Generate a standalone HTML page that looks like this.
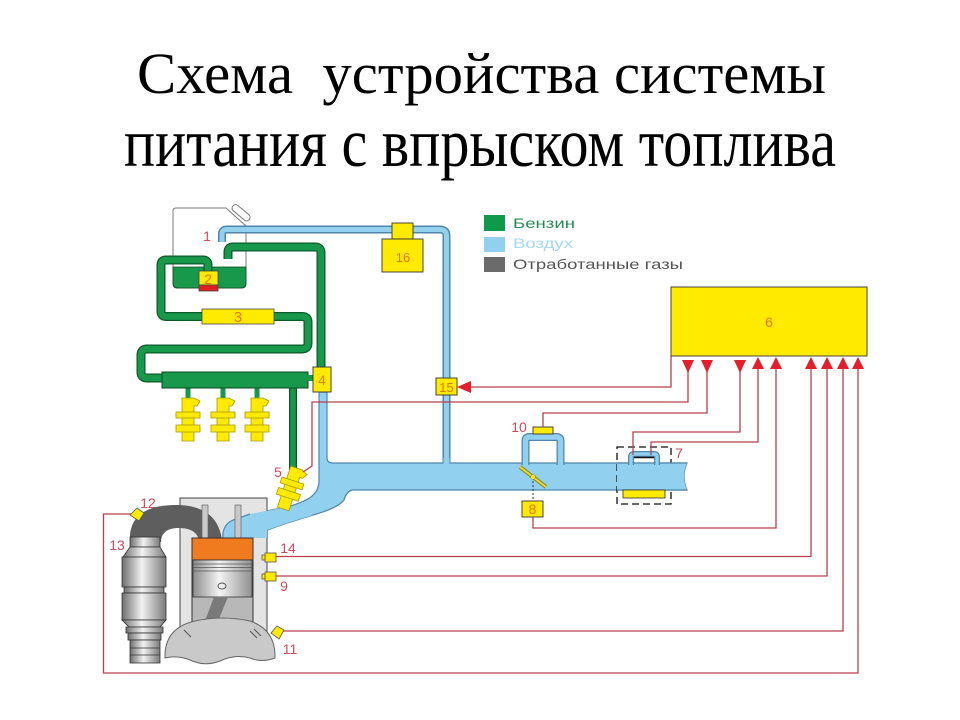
<!DOCTYPE html>
<html><head><meta charset="utf-8"><style>
html,body{margin:0;padding:0;background:#fff;}
svg{display:block;}
</style></head><body>
<svg width="960" height="720" viewBox="0 0 960 720" xmlns="http://www.w3.org/2000/svg">
<defs>
<linearGradient id="metal" x1="0" x2="1" y1="0" y2="0">
<stop offset="0" stop-color="#6e6e6e"/><stop offset="0.45" stop-color="#f2f2f2"/><stop offset="1" stop-color="#7a7a7a"/>
</linearGradient>
<linearGradient id="pist" x1="0" x2="1" y1="0" y2="0">
<stop offset="0" stop-color="#8c8c8c"/><stop offset="0.45" stop-color="#f4f4f4"/><stop offset="1" stop-color="#909090"/>
</linearGradient>
</defs>
<rect width="960" height="720" fill="#fff"/>

<!-- Title -->
<text x="137" y="93" font-family="Liberation Serif, serif" font-size="58" fill="#000" textLength="689" lengthAdjust="spacingAndGlyphs" style="white-space:pre">Схема  устройства системы</text>
<text x="124" y="166" font-family="Liberation Serif, serif" font-size="58" fill="#000" textLength="712" lengthAdjust="spacingAndGlyphs" transform="matrix(1 0 0 1.18 0 -29.88)">питания с впрыском топлива</text>

<!-- Legend -->
<rect x="484" y="215" width="21" height="16" fill="#0f9a4a"/>
<rect x="484" y="237" width="21" height="15" fill="#92d0ef"/>
<rect x="484" y="257" width="21" height="15" fill="#6b6b6b"/>
<text x="513" y="228" font-family="Liberation Sans, sans-serif" font-size="14" fill="#2a8a55" textLength="62" lengthAdjust="spacingAndGlyphs">Бензин</text>
<text x="513" y="248" font-family="Liberation Sans, sans-serif" font-size="14" fill="#a4d8f0" textLength="60" lengthAdjust="spacingAndGlyphs">Воздух</text>
<text x="513" y="269" font-family="Liberation Sans, sans-serif" font-size="14" fill="#555" textLength="170" lengthAdjust="spacingAndGlyphs">Отработанные газы</text>

<!-- Tank -->
<path d="M176,208 H226 L246,226 V284 Q246,288 242,288 H177 Q173,288 173,284 V211 Q173,208 176,208 Z" fill="none" stroke="#7a7a7a" stroke-width="1"/>
<path d="M173,267 H246 V283 Q246,288 241,288 H178 Q173,288 173,283 Z" fill="#17984a" stroke="#0c4a22" stroke-width="0.8"/>
<rect x="231" y="209" width="21" height="7" rx="3" fill="#fff" stroke="#7a7a7a" transform="rotate(40 241 212)"/>

<!-- Blue air pipe top -->
<g fill="none" stroke-linejoin="round">
<path d="M222,242 V234 Q222,229.5 227,229.5 H440 Q446.5,229.5 446.5,236 V466" stroke="#4f86aa" stroke-width="8"/>
<path d="M222,242 V234 Q222,229.5 227,229.5 H440 Q446.5,229.5 446.5,236 V466" stroke="#94d1ef" stroke-width="5"/>
</g>

<!-- Green fuel pipes -->
<g fill="none" stroke-linejoin="round">
<path d="M228,259 V252 Q228,247 233,247 H315 Q321,247 321,253 V368" stroke="#0c5a2a" stroke-width="9"/>
<path d="M228,259 V252 Q228,247 233,247 H315 Q321,247 321,253 V368" stroke="#17984a" stroke-width="6.5"/>
<path d="M208,272 V265 Q208,260 203,260 H166 Q161,260 161,265 V311 Q161,316.5 166,316.5 H203" stroke="#0c5a2a" stroke-width="9"/>
<path d="M208,272 V265 Q208,260 203,260 H166 Q161,260 161,265 V311 Q161,316.5 166,316.5 H203" stroke="#17984a" stroke-width="6.5"/>
<path d="M273,316.5 H302 Q308,316.5 308,322 V343 Q308,349 302,349 H147 Q141,349 141,355 V372 Q141,378 147,378 H164" stroke="#0c5a2a" stroke-width="9"/>
<path d="M273,316.5 H302 Q308,316.5 308,322 V343 Q308,349 302,349 H147 Q141,349 141,355 V372 Q141,378 147,378 H164" stroke="#17984a" stroke-width="6.5"/>
<path d="M293,386 V470" stroke="#0c5a2a" stroke-width="8"/>
<path d="M293,386 V470" stroke="#17984a" stroke-width="5.5"/>
<path d="M188,386 V398 M223,386 V398 M257,386 V398" stroke="#17984a" stroke-width="5"/>
</g>
<rect x="162" y="372" width="146" height="16" fill="#17984a" stroke="#0c4a22" stroke-width="1"/>
<rect x="306" y="375" width="8" height="6" fill="#17984a"/>

<!-- Pump 2 -->
<rect x="199" y="271" width="19" height="14" fill="#ffea00" stroke="#444" stroke-width="0.8"/>
<rect x="199" y="285" width="19" height="6" fill="#e02020" stroke="#444" stroke-width="0.8"/>
<!-- Filter 3 -->
<rect x="202" y="309" width="72" height="15" fill="#ffea00" stroke="#444" stroke-width="0.8"/>

<!-- Rail injectors -->
<g fill="#ffea00" stroke="#a89a00" stroke-width="0.8">
<path d="M182,398 H194 L200,401 L197,406 L194,406 V441 H182 Z"/>
<rect x="176" y="412" width="24" height="6"/><rect x="176" y="425" width="24" height="7"/>
<path d="M217,398 H229 L235,401 L232,406 L229,406 V441 H217 Z"/>
<rect x="211" y="412" width="24" height="6"/><rect x="211" y="425" width="24" height="7"/>
<path d="M251,398 H263 L269,401 L266,406 L263,406 V441 H251 Z"/>
<rect x="245" y="412" width="24" height="6"/><rect x="245" y="425" width="24" height="7"/>
</g>

<!-- Blue intake -->
<path d="M319,392 L327,392 L327,458 Q327,463 333,463 L687,463 Q681,476 687,490 L352,490 Q346,492 344,500 Q338,508 313,515 L287,523 L267,530 L267,538 L223,538 Q222,525 233,520 L250,514 L287,507 Q308,501 313,495 Q319,490 319,480 Z" fill="#92d0ef" stroke="#4f86aa" stroke-width="1.2"/>
<rect x="320" y="393" width="6" height="71" fill="#92d0ef"/>
<rect x="443.5" y="458" width="6" height="7" fill="#92d0ef"/>
<!-- bypass loop -->
<g fill="none">
<path d="M525.5,465 V441 Q525.5,437 529.5,437 H556.5 Q560.5,437 560.5,441 V465" stroke="#4f86aa" stroke-width="8"/>
<path d="M525.5,466 V441 Q525.5,437 529.5,437 H556.5 Q560.5,437 560.5,441 V466" stroke="#92d0ef" stroke-width="5.5"/>
</g>
<!-- sensor 7 -->
<rect x="617" y="447" width="54" height="57" fill="none" stroke="#111" stroke-width="1.3" stroke-dasharray="7,4"/>
<path d="M687,463 Q681,476 687,490 L617,490 L617,463 Z" fill="#92d0ef"/>
<line x1="617" y1="463" x2="687" y2="463" stroke="#4f86aa" stroke-width="1.2"/>
<line x1="617" y1="490" x2="687" y2="490" stroke="#4f86aa" stroke-width="1.2"/>
<g fill="none">
<path d="M631,465 V457 Q631,454 634,454 H654 Q657,454 657,457 V465" stroke="#4f86aa" stroke-width="6"/>
<path d="M631,466 V457 Q631,454 634,454 H654 Q657,454 657,457 V466" stroke="#92d0ef" stroke-width="3.5"/>
</g>
<line x1="634" y1="457.5" x2="654" y2="457.5" stroke="#111" stroke-width="1.5"/>
<rect x="623" y="490" width="42" height="8" fill="#ffea00" stroke="#333" stroke-width="0.8"/>

<!-- throttle -->
<line x1="533" y1="477" x2="533" y2="501" stroke="#333" stroke-width="1" stroke-dasharray="2,2"/>
<line x1="520" y1="467" x2="546" y2="487" stroke="#8a8a20" stroke-width="4"/>
<line x1="520" y1="467" x2="546" y2="487" stroke="#e6dc30" stroke-width="2"/>
<circle cx="533" cy="477" r="2.5" fill="#ffea00" stroke="#777" stroke-width="0.5"/>

<!-- Boxes -->
<g fill="#ffea00" stroke="#333" stroke-width="0.9">
<rect x="313" y="367" width="18" height="25"/>
<rect x="392" y="223" width="21" height="16"/>
<rect x="382" y="239" width="41" height="33"/>
<rect x="436" y="378" width="21" height="17"/>
<rect x="671" y="287" width="196" height="69"/>
<rect x="533" y="427" width="20" height="7"/>
<rect x="522" y="501" width="21" height="16"/>
</g>

<!-- Engine -->
<rect x="180" y="498" width="87" height="145" fill="#e4e4e4" stroke="#444" stroke-width="1"/>
<path d="M130,542 C128,512 152,505 176,505 C202,505 219,516 222,540 L199,540 C197,532 190,528 179,528 C167,528 161,533 161,542 Z" fill="#5e5e5e"/>
<path d="M267,530 L267,538 L223,538 Q222,525 233,520 L250,514 L287,507 L313,515 L287,523 Z" fill="#92d0ef"/>
<path d="M223,538 Q222,525 233,520 L250,514" fill="none" stroke="#4f86aa" stroke-width="1.2"/>
<rect x="202" y="505" width="6" height="34" fill="#c8c8c8" stroke="#666" stroke-width="0.7"/>
<rect x="235" y="505" width="6" height="34" fill="#c8c8c8" stroke="#666" stroke-width="0.7"/>
<rect x="192" y="538" width="61" height="88" fill="#b8b8b8" stroke="#333" stroke-width="1"/>
<rect x="192" y="538" width="61" height="22" fill="#f07a1e" stroke="#333" stroke-width="1"/>
<rect x="193" y="560" width="59" height="37" fill="url(#pist)" stroke="#333" stroke-width="0.8"/>
<path d="M193,564 H252 M193,567.5 H252 M193,571 H252" stroke="#555" stroke-width="0.8"/>
<ellipse cx="222" cy="586" rx="4" ry="3" fill="none" stroke="#555" stroke-width="1"/>
<polygon points="214,597 228,597 216,626 203,626" fill="#7a7a7a"/>
<path d="M165,658 Q164,628 195,621 Q222,615 250,621 Q276,630 275,658 Q262,663 250,658 Q235,654 220,661 Q205,667 190,660 Q178,655 165,658 Z" fill="#c9c9c9" stroke="#666" stroke-width="1"/>
<path d="M184,630 L191,637 M250,631 L257,638 M254,629 L261,636" stroke="#555" stroke-width="1"/>

<!-- Catalytic converter 13 -->
<g fill="url(#metal)" stroke="#333" stroke-width="0.8">
<rect x="130" y="537" width="30" height="10"/>
<polygon points="130,547 160,547 166,557 123,557"/>
<rect x="122" y="557" width="44" height="30"/>
<rect x="124" y="587" width="40" height="6"/>
<rect x="122" y="593" width="44" height="27"/>
<polygon points="122,620 166,620 160,627 129,627"/>
<rect x="126" y="627" width="37" height="6"/>
<rect x="128" y="633" width="33" height="7"/>
<rect x="130" y="640" width="30" height="23"/>
</g>
<path d="M130,648 H160 M130,655 H160" stroke="#333" stroke-width="0.8"/>

<!-- sensors on engine -->
<g fill="#ffea00" stroke="#555" stroke-width="0.8">
<polygon points="130,515 137,508 144,513 139,521"/>
<rect x="265" y="553" width="11" height="9"/><rect x="262" y="555" width="3" height="5"/>
<rect x="265" y="572" width="11" height="9"/><rect x="262" y="574" width="3" height="5"/>
<polygon points="271,633 277,626 284,630 279,639"/>
</g>
<!-- injector 5 -->
<g transform="rotate(18 290 488)" fill="#ffea00" stroke="#a89a00" stroke-width="0.8">
<path d="M284,467 H296 L302,470 L299,475 L296,475 V510 H284 Z"/>
<rect x="279" y="480" width="23" height="6"/><rect x="279" y="491" width="23" height="7"/>
</g>

<!-- Signal lines -->
<g fill="none" stroke="#b8404e" stroke-width="1.3">
<path d="M671,356 V387 H468"/>
<path d="M688,360 V402 H312 V466 L303,472"/>
<path d="M707,360 V413 H543 V427"/>
<path d="M740,360 V432 H633 V455"/>
<path d="M758,366 V442 H651 V455"/>
<path d="M776,366 V528 H533 V517"/>
<path d="M811,366 V556.5 H276"/>
<path d="M827,366 V576 H276"/>
<path d="M843,366 V631 H283"/>
<path d="M858,366 V673 H103.5 V514 H131"/>
</g>
<g fill="#e41e2a">
<polygon points="457,387 471,381 471,393"/>
<polygon points="682,360 694,360 688,373"/>
<polygon points="701,360 713,360 707,373"/>
<polygon points="734,360 746,360 740,373"/>
<polygon points="758,357 752,369 764,369"/>
<polygon points="776,357 770,369 782,369"/>
<polygon points="811,357 805,369 817,369"/>
<polygon points="827,357 821,369 833,369"/>
<polygon points="843,357 837,369 849,369"/>
<polygon points="858,357 852,369 864,369"/>
</g>

<!-- Box labels -->
<g font-family="Liberation Sans, sans-serif" fill="#e07a10" text-anchor="middle">
<text x="208" y="284" font-size="14">2</text>
<text x="238" y="322" font-size="15">3</text>
<text x="322" y="385" font-size="14">4</text>
<text x="403" y="262" font-size="13">16</text>
<text x="446.5" y="392" font-size="13">15</text>
<text x="769" y="327" font-size="14">6</text>
<text x="532.5" y="514" font-size="14">8</text>
</g>
<!-- Number labels -->
<g font-family="Liberation Sans, sans-serif" fill="#d24a5c" font-size="14" text-anchor="middle">
<text x="207" y="241">1</text>
<text x="278" y="477">5</text>
<text x="519" y="432">10</text>
<text x="679" y="458">7</text>
<text x="148" y="508">12</text>
<text x="117" y="550">13</text>
<text x="288" y="553">14</text>
<text x="284" y="591">9</text>
<text x="290" y="654">11</text>
</g>
</svg>
</body></html>
